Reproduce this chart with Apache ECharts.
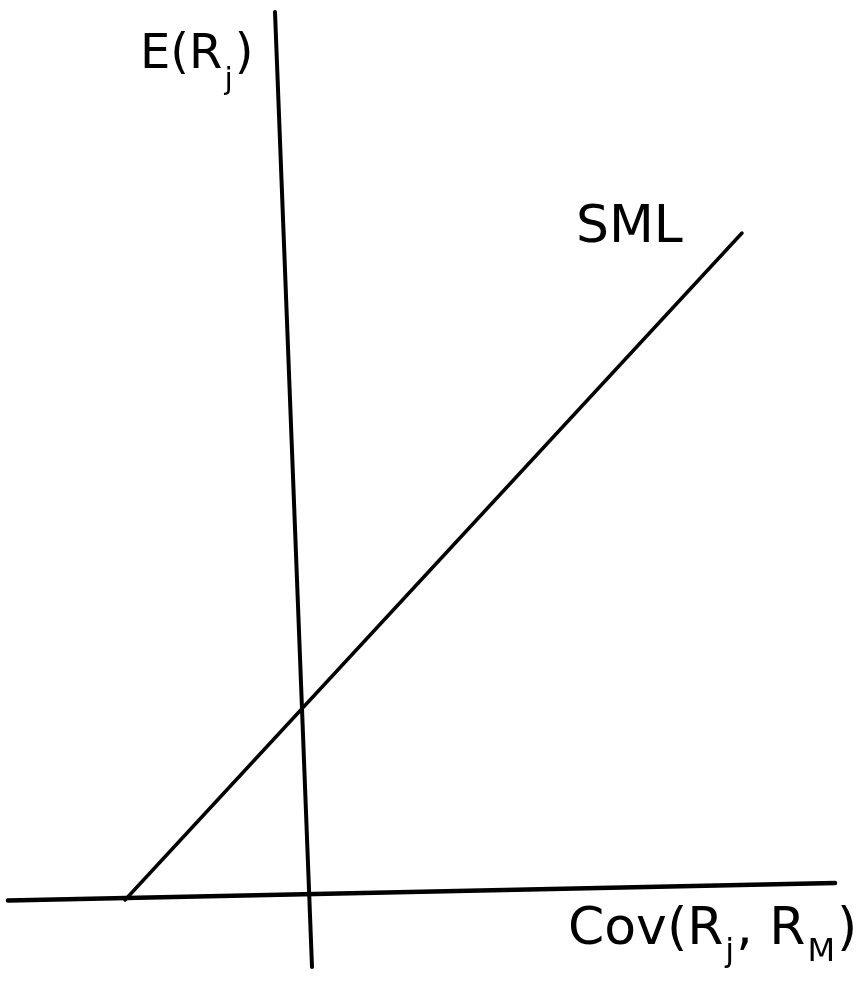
<!DOCTYPE html>
<html>
<head>
<meta charset="utf-8">
<script src="https://cdn.jsdelivr.net/npm/echarts@6/dist/echarts.min.js"></script>
<style>
html,body{margin:0;padding:0;background:#fff;}
#chart{width:857px;height:981px;}
</style>
</head>
<body>
<div id="chart"></div>
<script>
// Sketch data (x: covariance units, y: expected return units; origin where the axes cross)
const horizontalAxisLine = [[-30.2, -0.55], [52.5, 1.2]];
const verticalAxisLine = [[-3.5, 88.3], [0.2, -7.2]];
const smlLine = [[-18.5, -0.5], [43.2, 66.2]];
const smlLabel = 'SML';

const chart = echarts.init(document.getElementById('chart'));
const font = 'DejaVu Sans';
const lineSeries = (data, w) => ({
  type: 'line', data: data, symbol: 'none', silent: true,
  lineStyle: { color: '#000', width: w, cap: 'round' }
});
chart.setOption({
  backgroundColor: '#fff',
  animation: false,
  grid: { left: 0, right: 0, top: 0, bottom: 0 },
  xAxis: { type: 'value', min: -31, max: 54.7, show: false },
  yAxis: { type: 'value', min: -8.6, max: 89.5, show: false },
  series: [
    lineSeries(horizontalAxisLine, 4.5),
    lineSeries(verticalAxisLine, 4),
    lineSeries(smlLine, 3.5)
  ],
  graphic: [
    {
      type: 'text', left: 140, top: 32,
      style: {
        text: '{m|E(R}{s|j}{m|)}',
        rich: {
          m: { fontFamily: font, fontSize: 48, fill: '#000' },
          s: { fontFamily: font, fontSize: 30, fill: '#000', padding: [50, 2, 0, 2] }
        }
      }
    },
    {
      type: 'text', left: 576, top: 202,
      style: { text: smlLabel, fontFamily: font, fontSize: 52, fill: '#000' }
    },
    {
      type: 'text', left: 568, top: 904,
      style: {
        text: '{m|Cov(R}{s|j}{m|, R}{s|M}{m|)}',
        rich: {
          m: { fontFamily: font, fontSize: 52, fill: '#000' },
          s: { fontFamily: font, fontSize: 32, fill: '#000', padding: [46, 2, 0, 2] }
        }
      }
    }
  ]
});
</script>
</body>
</html>
